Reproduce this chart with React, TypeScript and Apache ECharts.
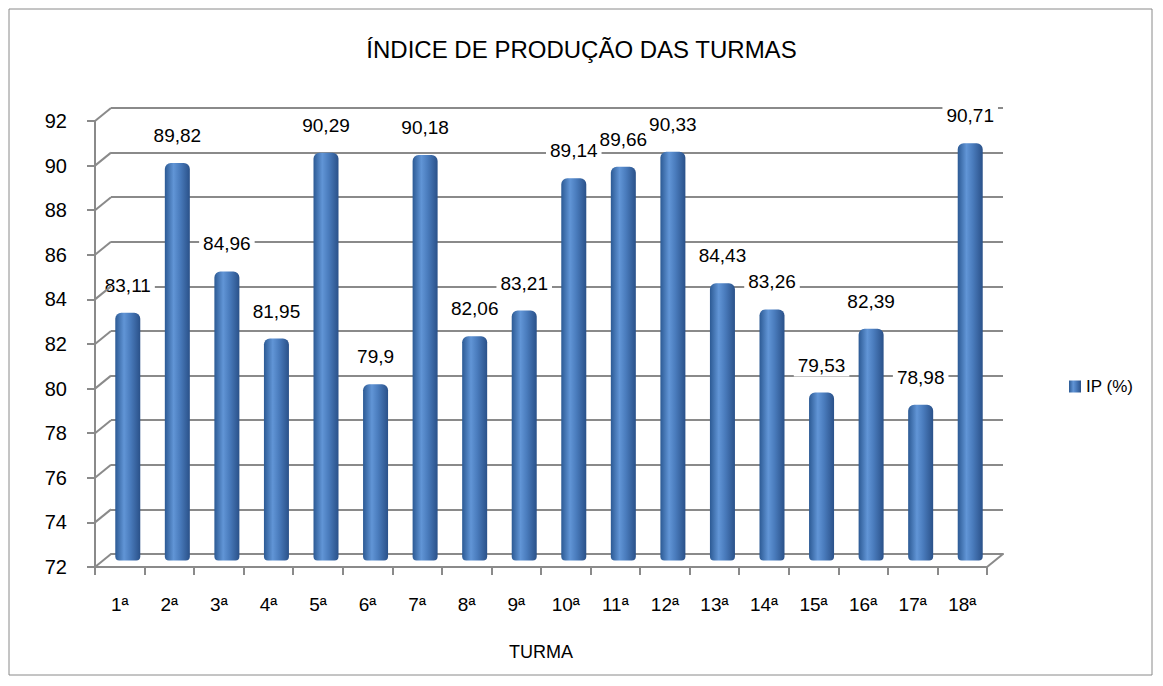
import React, { useEffect, useRef } from "react";
import * as echarts from "echarts";

const chartTitle = "ÍNDICE DE PRODUÇÃO DAS TURMAS";
const seriesName = "IP (%)";
const xAxisName = "TURMA";
const categories = ["1ª", "2ª", "3ª", "4ª", "5ª", "6ª", "7ª", "8ª", "9ª", "10ª", "11ª", "12ª", "13ª", "14ª", "15ª", "16ª", "17ª", "18ª"];
const ipValues = [83.11, 89.82, 84.96, 81.95, 90.29, 79.9, 90.18, 82.06, 83.21, 89.14, 89.66, 90.33, 84.43, 83.26, 79.53, 82.39, 78.98, 90.71];
const yTicks = [72, 74, 76, 78, 80, 82, 84, 86, 88, 90, 92];

const W = 1163;
const H = 686;
const FRONT = { left: 95, right: 176, top: 121, bottom: 119 };
const DX = 16;
const DY = 13;
const GRAY = "#8a8a8a";
const FONT = "Liberation Sans";

const fmt = (v: number) => String(v).replace(".", ",");

export default function App() {
  const ref = useRef<HTMLDivElement>(null);
  useEffect(() => {
    if (!ref.current) return;
    const chart = echarts.init(ref.current, null, { renderer: "svg" });
    const yMin = yTicks[0];
    const yMax = yTicks[yTicks.length - 1];
    const cyl = new echarts.graphic.LinearGradient(0, 0, 1, 0, [
      { offset: 0, color: "#2c5a94" },
      { offset: 0.35, color: "#6195d6" },
      { offset: 0.6, color: "#4a7cbd" },
      { offset: 1, color: "#2a5189" },
    ]);
    const mkGrid = (k: number) => ({
      left: FRONT.left + DX * k / 2,
      right: FRONT.right - DX * k / 2,
      top: FRONT.top - DY * k / 2,
      bottom: FRONT.bottom + DY * k / 2,
    });
    const hiddenY = (gi: number, split: boolean) => ({
      type: "value",
      gridIndex: gi,
      min: yMin,
      max: yMax,
      interval: 2,
      axisLine: { show: false },
      axisTick: { show: false },
      axisLabel: { show: false },
      splitLine: { show: split, lineStyle: { color: GRAY, width: 2 } },
    });
    chart.setOption({
      animation: false,
      backgroundColor: "#fff",
      title: {
        text: chartTitle,
        left: "center",
        top: 32,
        textStyle: { fontFamily: FONT, fontSize: 24, fontWeight: "normal", color: "#000" },
      },
      legend: {
        left: 1064,
        top: 373,
        icon: "rect",
        itemWidth: 12,
        itemHeight: 12,
        itemGap: 10,
        textStyle: { fontFamily: FONT, fontSize: 17, color: "#000" },
        data: [seriesName],
      },
      grid: [mkGrid(0), mkGrid(1), mkGrid(2)],
      xAxis: [
        {
          type: "category",
          gridIndex: 0,
          data: categories,
          name: xAxisName,
          nameLocation: "middle",
          nameGap: 76,
          nameTextStyle: { fontFamily: FONT, fontSize: 18, color: "#000" },
          axisLine: { lineStyle: { color: GRAY, width: 2 } },
          axisTick: { show: true, length: 8, lineStyle: { color: GRAY, width: 2 } },
          axisLabel: { margin: 28, fontFamily: FONT, fontSize: 19, color: "#000" },
        },
        { type: "category", gridIndex: 1, data: categories, show: false },
        {
          type: "category",
          gridIndex: 2,
          data: categories,
          axisLine: { lineStyle: { color: GRAY, width: 2 } },
          axisTick: { show: false },
          axisLabel: { show: false },
        },
      ],
      yAxis: [
        {
          type: "value",
          gridIndex: 0,
          min: yMin,
          max: yMax,
          interval: 2,
          axisLine: { show: true, lineStyle: { color: GRAY, width: 2 } },
          axisTick: { show: true, length: 8, lineStyle: { color: GRAY, width: 2 } },
          axisLabel: { margin: 28, fontFamily: FONT, fontSize: 20, color: "#000" },
          splitLine: { show: false },
        },
        hiddenY(1, false),
        hiddenY(2, true),
      ],
      series: [
        {
          name: seriesName,
          type: "bar",
          xAxisIndex: 1,
          yAxisIndex: 1,
          barWidth: 25,
          data: ipValues,
          itemStyle: { color: cyl, borderRadius: [6, 6, 4, 4] },
          label: {
            show: true,
            position: "top",
            distance: 16,
            formatter: (p: any) => fmt(p.value),
            fontFamily: FONT,
            fontSize: 19,
            color: "#000",
            backgroundColor: "#fff",
            padding: [2, 4],
          },
        },
      ],
    });

    const lines: any[] = [];
    yTicks.forEach((v) => {
      const y = chart.convertToPixel({ yAxisIndex: 0 }, v) as number;
      lines.push({
        type: "line",
        shape: { x1: FRONT.left, y1: y, x2: FRONT.left + DX, y2: y - DY },
        style: { stroke: GRAY, lineWidth: 2 },
        z: 5,
      });
    });
    const yb = chart.convertToPixel({ yAxisIndex: 0 }, yMin) as number;
    const xr = W - FRONT.right;
    lines.push({
      type: "line",
      shape: { x1: xr, y1: yb, x2: xr + DX, y2: yb - DY },
      style: { stroke: GRAY, lineWidth: 2 },
      z: 5,
    });
    lines.push({
      type: "rect",
      shape: { x: 9, y: 9, width: W - 20, height: H - 20 },
      style: { fill: "none", stroke: GRAY, lineWidth: 1 },
      z: 0,
    });
    chart.setOption({ graphic: lines });
    return () => chart.dispose();
  }, []);
  return (
    <div
      ref={ref}
      style={{ position: "absolute", left: 0, top: 0, width: W, height: H }}
    />
  );
}
